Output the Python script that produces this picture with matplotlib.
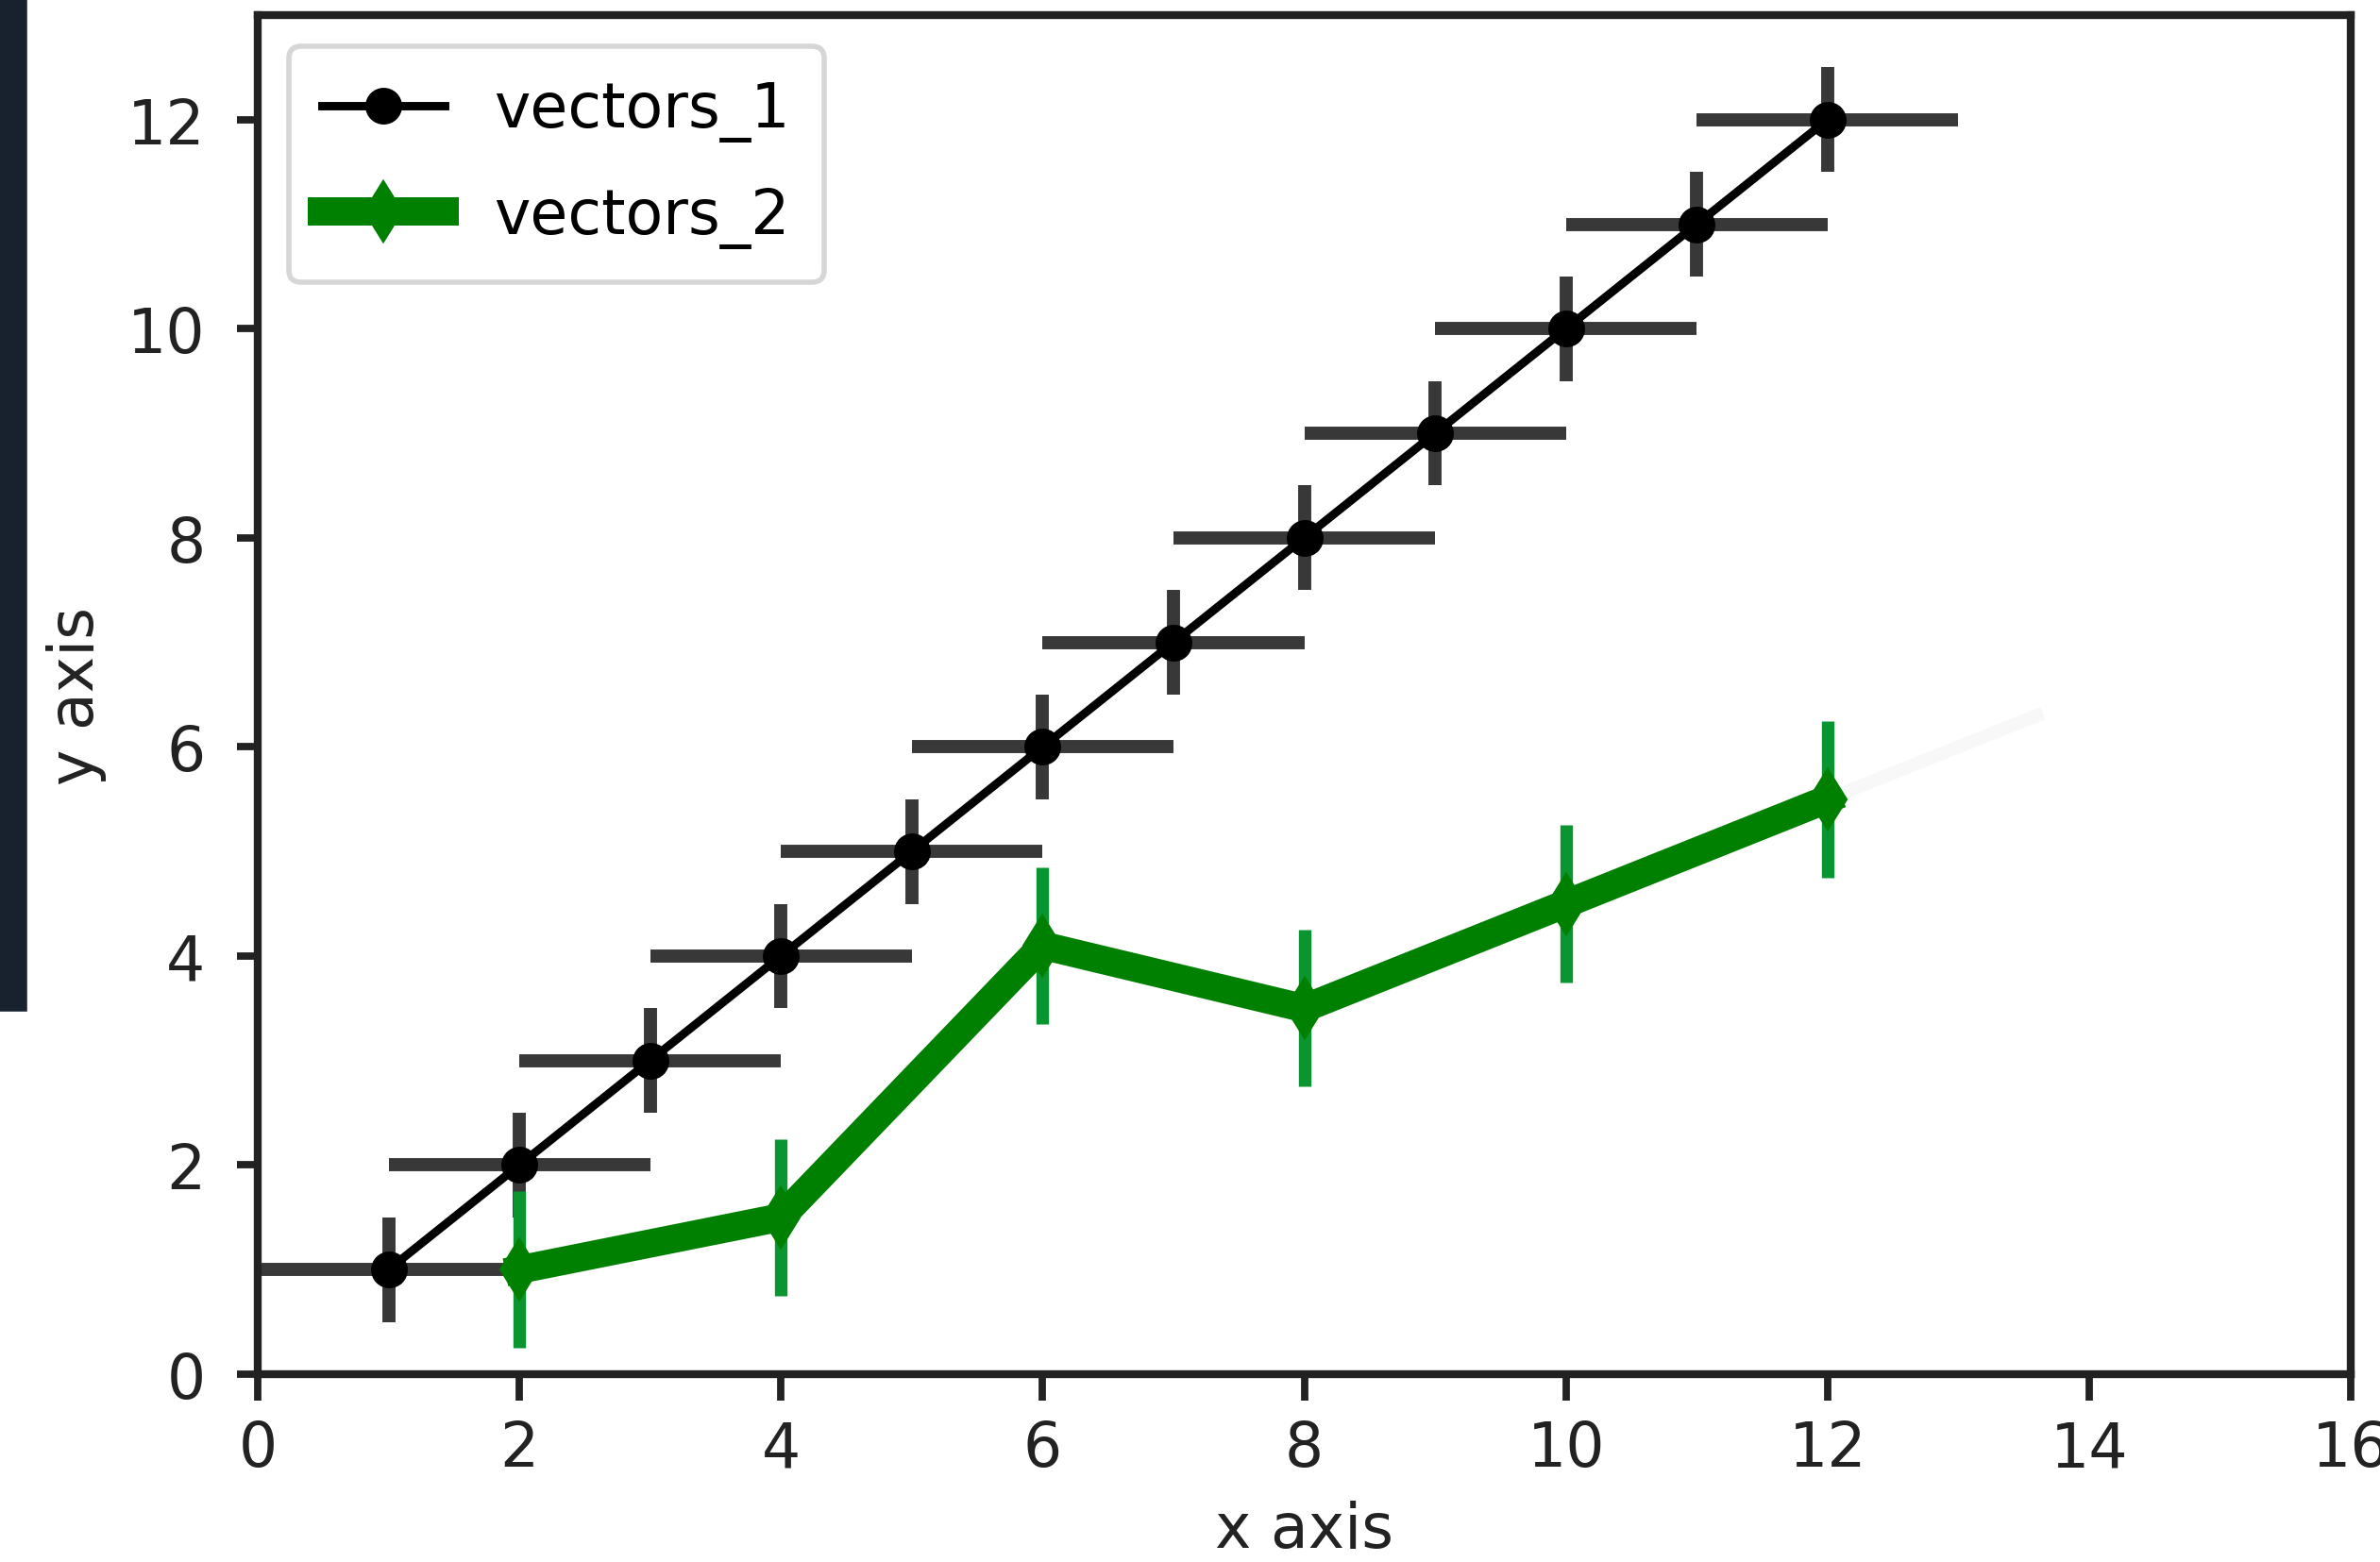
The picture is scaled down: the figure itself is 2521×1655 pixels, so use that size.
import matplotlib
matplotlib.use("Agg")
import matplotlib.pyplot as plt
from matplotlib.patches import Rectangle

# data
x1 = [1, 2, 3, 4, 5, 6, 7, 8, 9, 10, 11, 12]
y1 = [1, 2, 3, 4, 5, 6, 7, 8, 9, 10, 11, 12]
x1_err = [1] * 12
y1_err = [0.5] * 12

x2 = [2, 4, 6, 8, 10, 12]
y2 = [1.0, 1.5, 4.1, 3.5, 4.5, 5.5]
y2_err = [0.75] * 6

# very faint stray segment after the last green point
faint_x = [12, 13.6]
faint_y = [5.5, 6.3]

plt.rcParams['font.family'] = ['DejaVu Sans']
plt.rcParams['font.size'] = 11.7

fig = plt.figure(figsize=(6.3025, 4.14), dpi=400)
ax = fig.add_axes([0.1083, 0.1202, 0.9877 - 0.1083, 0.9897 - 0.1202])

# dark strip at the left edge of the screenshot
fig.patches.append(Rectangle((0, 1 - 1070 / 1656), 26 / 2521, 1070 / 1656,
                             transform=fig.transFigure, color='#18222f', zorder=0))

ax.plot(faint_x, faint_y, color='#f8f8f8', lw=2.5, zorder=1)

ax.errorbar(x1, y1, xerr=x1_err, yerr=y1_err, fmt='none', ecolor='#383838', elinewidth=2.5, zorder=2)
ax.plot(x1, y1, '-o', color='black', lw=1.6, ms=6, label='vectors_1', zorder=3)

ax.errorbar(x2, y2, yerr=y2_err, fmt='none', ecolor='#0a9530', elinewidth=2.4, zorder=4)
ax.plot(x2, y2, '-d', color='green', lw=5.4, ms=7.5, label='vectors_2', zorder=5)

ax.set_xlim(0, 16)
ax.set_ylim(0, 13)
ax.set_xticks(range(0, 17, 2))
ax.set_yticks(range(0, 13, 2))
ax.tick_params(axis='x', length=5, width=1.4, pad=3.5, colors='#222222')
ax.tick_params(axis='y', length=4, width=1.4, pad=6, colors='#222222')
for s in ax.spines.values():
    s.set_linewidth(1.5)
    s.set_color('#222222')

ax.set_xlabel('x axis', color='#222222')
ax.set_ylabel('y axis', color='#222222')
ax.legend(loc='upper left', labelspacing=0.72, borderpad=0.55)

fig.savefig('out.png', dpi=400)
